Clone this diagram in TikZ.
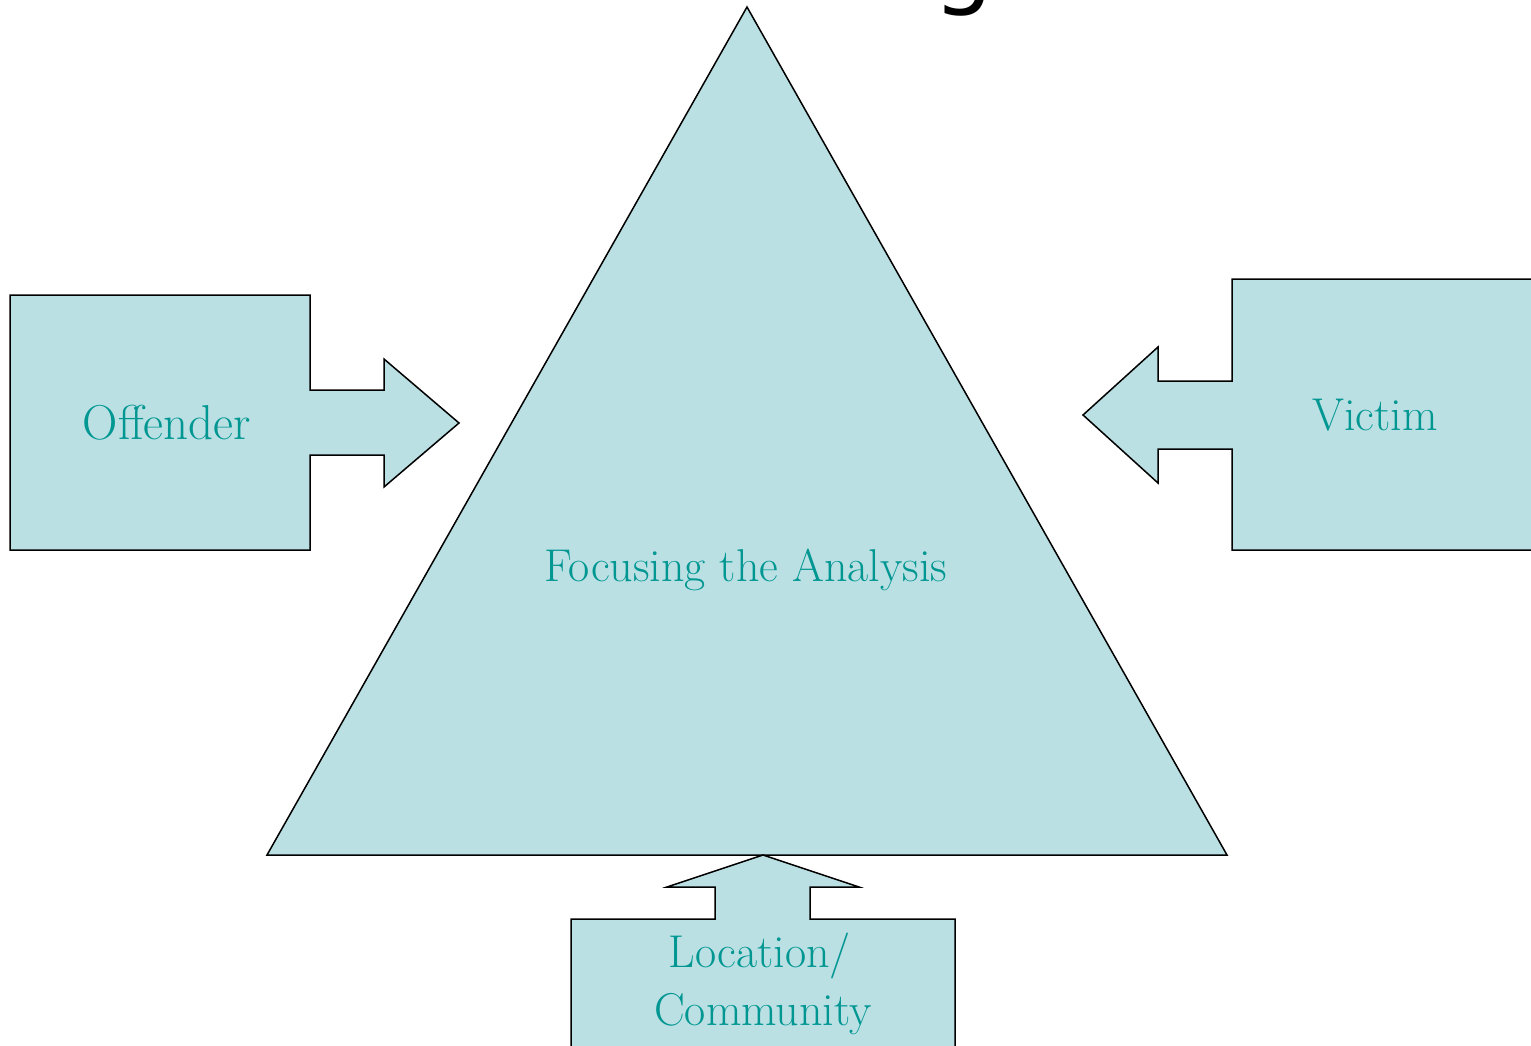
\documentclass[tikz,border=0pt]{standalone}
\usepackage{fontspec}
\newfontfamily\titlefont{DejaVu Sans}
\definecolor{shapefill}{RGB}{186,224,227}
\definecolor{labelteal}{RGB}{0,150,146}
\begin{document}
\begin{tikzpicture}[x=1pt,y=-1pt,
  blockshape/.style={draw=black,fill=shapefill,line width=1.5pt,line join=miter},
  lbl/.style={text=labelteal,font=\fontsize{46}{56}\selectfont,inner sep=0pt,align=center}]
\clip (0,0) rectangle (1531,1046);
\useasboundingbox (0,0) rectangle (1531,1046);
% title, cut off by the top edge
\node[anchor=base,inner sep=0pt,font=\titlefont\fontsize{95}{95}\selectfont] (title) at (736,-3) {Crime Triangle};
% triangle
\draw[blockshape] (747,7) -- (1227,855) -- (267,855) -- cycle;
% offender
\draw[blockshape] (10,295) -- (310,295) -- (310,390) -- (384,390) -- (384,359) -- (459,423)
  -- (384,487) -- (384,455) -- (310,455) -- (310,550) -- (10,550) -- cycle;
% victim
\draw[blockshape] (1531,279) -- (1232,279) -- (1232,381) -- (1158,381) -- (1158,347) -- (1083,415)
  -- (1158,483) -- (1158,449) -- (1232,449) -- (1232,550) -- (1531,550);
% location/community
\draw[blockshape] (571,1060) -- (571,919) -- (715,919) -- (715,887) -- (667,887) -- (763,855)
  -- (859,887) -- (810,887) -- (810,919) -- (955,919) -- (955,1060);
\node[lbl,font=\fontsize{49}{56}\selectfont] (offender) at (167,423) {Offender};
\node[lbl] (victim) at (1375,415) {Victim};
\node[lbl] (focus) at (746,570) {Focusing the Analysis};
\node[lbl,anchor=base] (loc) at (760,967) {Location/};
\node[lbl,anchor=base] (comm) at (763,1025) {Community};
\end{tikzpicture}
\end{document}
